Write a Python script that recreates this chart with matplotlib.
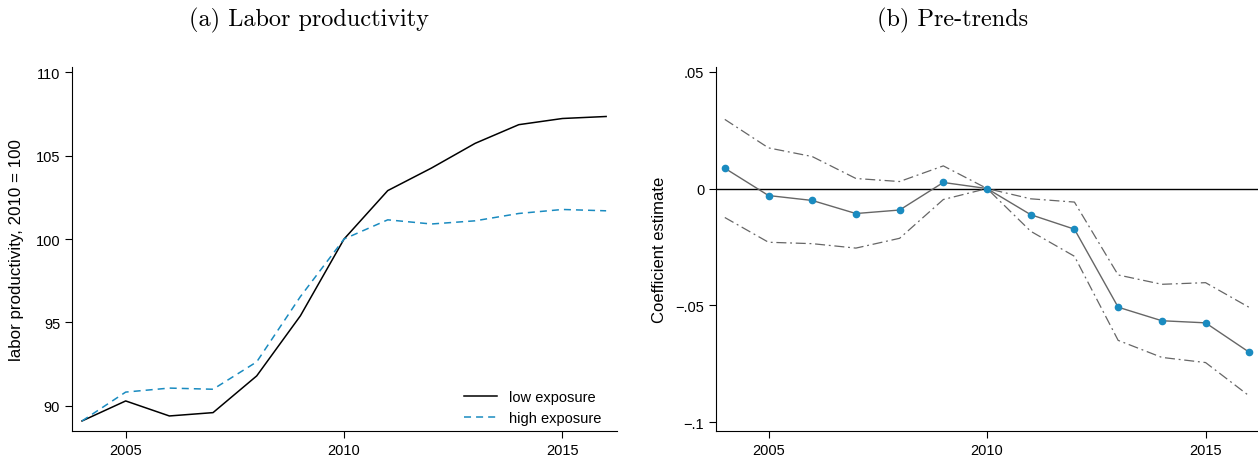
import numpy as np
import matplotlib
matplotlib.use("Agg")
import matplotlib.pyplot as plt

plt.rcParams["font.family"] = ["Liberation Sans", "DejaVu Sans"]

years = np.arange(2004, 2017)

# (a) labor productivity, 2010 = 100
low_exposure = [89.1, 90.3, 89.4, 89.6, 91.8, 95.4, 100.0, 102.9, 104.25, 105.73, 106.85, 107.22, 107.34]
high_exposure = [89.1, 90.83, 91.07, 91.0, 92.64, 96.55, 100.0, 101.15, 100.9, 101.09, 101.53, 101.77, 101.69]

# (b) pre-trends
coef = [0.0087, -0.0030, -0.0051, -0.0107, -0.0092, 0.0026, 0.0, -0.0112, -0.0174, -0.0508, -0.0566, -0.0575, -0.0701]
ci_upper = [0.0296, 0.0174, 0.0137, 0.0043, 0.0030, 0.0097, 0.0, -0.0044, -0.0058, -0.0370, -0.0410, -0.0403, -0.0509]
ci_lower = [-0.0124, -0.0230, -0.0236, -0.0255, -0.0213, -0.0047, 0.0, -0.0183, -0.0290, -0.0650, -0.0723, -0.0745, -0.0888]

blue = "#1a8bc0"
gray = "#666666"

fig = plt.figure(figsize=(12.58, 4.60), dpi=100)
ax1 = fig.add_axes([0.0572, 0.0609, 0.4333, 0.7911])
ax2 = fig.add_axes([0.5692, 0.0609, 0.4308, 0.7911])

for ax in (ax1, ax2):
    ax.spines["top"].set_visible(False)
    ax.spines["right"].set_visible(False)
    ax.tick_params(direction="out", length=5, width=0.8, labelsize=10.5)
    ax.set_xticks([2005, 2010, 2015])
    ax.set_xlim(2003.77, 2016.25)

# 左图：劳动生产率
ax1.plot(years, low_exposure, color="black", lw=1.1, label="low exposure")
ax1.plot(years, high_exposure, color=blue, lw=1.1, ls=(0, (4.6, 3.3)), label="high exposure")
ax1.set_ylim(88.5, 110.3)
ax1.set_yticks([90, 95, 100, 105, 110])
ax1.set_ylabel("labor productivity, 2010 = 100", fontsize=12.2, labelpad=8)
ax1.legend(loc="lower right", frameon=False, fontsize=10.5, handlelength=2.3,
           bbox_to_anchor=(0.995, -0.02), labelspacing=0.5)

# 右图：事件研究系数
ax2.axhline(0, color="black", lw=1.0)
ax2.plot(years, ci_upper, color=gray, lw=0.9, ls=(0, (8, 3, 1.5, 3)))
ax2.plot(years, ci_lower, color=gray, lw=0.9, ls=(0, (8, 3, 1.5, 3)))
ax2.plot(years, coef, color=gray, lw=1.0, marker="o", ms=4.5,
         mfc=blue, mec=blue)
ax2.set_ylim(-0.1038, 0.052)
ax2.set_yticks([0.05, 0, -0.05, -0.1])
ax2.set_yticklabels([".05", "0", "\u2212.05", "\u2212.1"])
ax2.set_ylabel("Coefficient estimate", fontsize=12, labelpad=6)
ax2.set_xlim(2003.8, 2016.2)

fig.text(0.246, 0.955, "(a) Labor productivity", family="cmr10", fontsize=17.5,
         ha="center", va="center")
fig.text(0.757, 0.955, "(b) Pre-trends", family="cmr10", fontsize=17.5,
         ha="center", va="center")

fig.savefig("out.png", dpi=100)
